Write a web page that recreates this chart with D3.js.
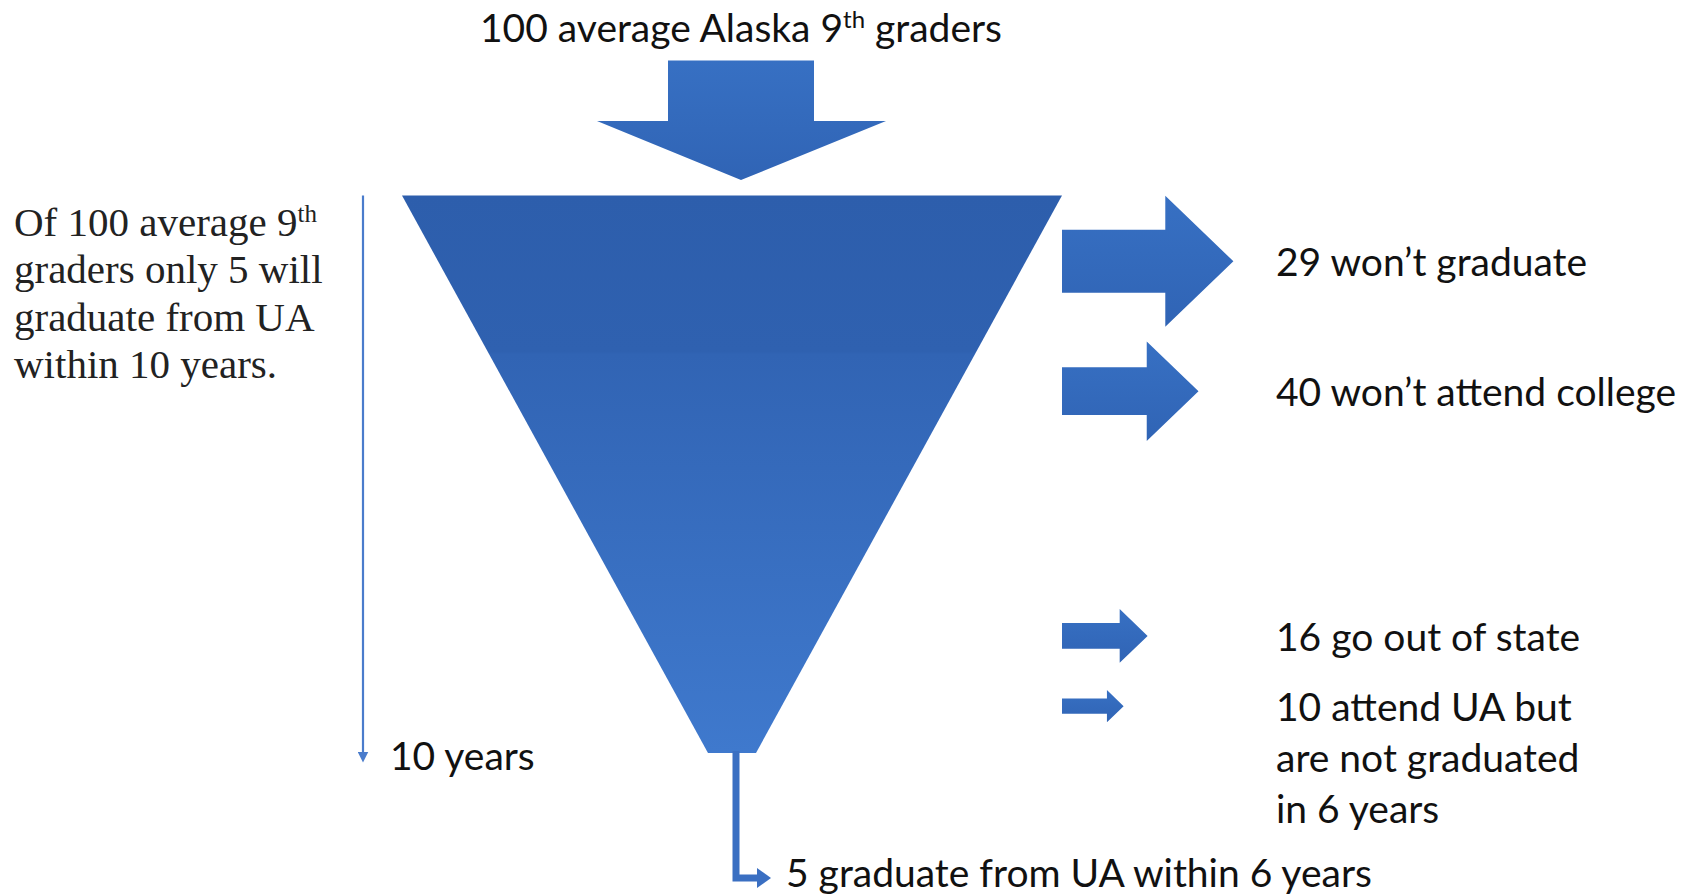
<!DOCTYPE html>
<html>
<head>
<meta charset="utf-8">
<script src="https://cdn.jsdelivr.net/npm/d3@7"></script>
<style>
  html, body { margin: 0; padding: 0; background: #fff; }
  svg { display: block; }
</style>
</head>
<body>
<div id="chart"></div>
<script>
// cohort flowing through the funnel
const cohortSize = 100;
const graduates = 5;
const yearsSpan = 10;

// people leaving the pipeline, in the order of the side arrows
const outflowCounts = [29, 40, 16, 10];
const outflowLabels = [
  ["29 won\u2019t graduate"],
  ["40 won\u2019t attend college"],
  ["16 go out of state"],
  ["10 attend UA but", "are not graduated", "in 6 years"]
];
// where each arrow leaves on the time axis, and its relative drawn size
const outflowYear = [1.18, 3.51, 7.9, 9.16];
const arrowSize = [1, 0.76, 0.41, 0.245];

const titleLines = ["100 average Alaska 9", "th", " graders"];
const noteLines = [["Of 100 average 9", "th"], ["graders only 5 will"], ["graduate from UA"], ["within 10 years."]];
const axisLabel = "10 years";
const graduateLabel = "5 graduate from UA within 6 years";

const W = 1694, H = 895;
const sans = "Lato, 'Open Sans', sans-serif";
const serif = "'Liberation Serif', 'Times New Roman', serif";
const labelSize = 39;

const svg = d3.select("#chart").append("svg")
  .attr("width", W)
  .attr("height", H)
  .attr("viewBox", `0 0 ${W} ${H}`);

const defs = svg.append("defs");

const funnelGrad = defs.append("linearGradient")
  .attr("id", "funnelGrad")
  .attr("x1", 0).attr("y1", 0).attr("x2", 0).attr("y2", 1);
funnelGrad.append("stop").attr("offset", "0%").attr("stop-color", "#2d5eac");
funnelGrad.append("stop").attr("offset", "28%").attr("stop-color", "#2f61b0");
funnelGrad.append("stop").attr("offset", "28.5%").attr("stop-color", "#3164b4");
funnelGrad.append("stop").attr("offset", "100%").attr("stop-color", "#3f79cd");

const arrowGrad = defs.append("linearGradient")
  .attr("id", "arrowGrad")
  .attr("x1", 0).attr("y1", 0).attr("x2", 0).attr("y2", 1);
arrowGrad.append("stop").attr("offset", "0%").attr("stop-color", "#3770c3");
arrowGrad.append("stop").attr("offset", "100%").attr("stop-color", "#3064b5");

defs.append("marker")
  .attr("id", "smallHead")
  .attr("viewBox", "0 0 10 10")
  .attr("refX", 5).attr("refY", 5)
  .attr("markerWidth", 5).attr("markerHeight", 5)
  .attr("markerUnits", "strokeWidth")
  .attr("orient", "auto")
  .append("path")
  .attr("d", "M0,0L10,5L0,10Z")
  .attr("fill", "#4a7ccc");

// scales
const centerX = 732;
const yearScale = d3.scaleLinear().domain([0, yearsSpan]).range([195.5, 753]);
const widthScale = d3.scaleLinear().domain([graduates, cohortSize]).range([48, 660]);
const arrowScale = d3.scaleLinear().domain([0, 1]).range([0, 131]);
const arrowX0 = centerX + widthScale(cohortSize) / 2;

// title
const title = svg.append("text")
  .attr("x", 741)
  .attr("y", 42)
  .attr("text-anchor", "middle")
  .style("font-family", sans)
  .style("font-size", labelSize + "px")
  .style("fill", "#111");
title.append("tspan").text(titleLines[0]);
title.append("tspan").attr("dy", -14).style("font-size", "24px").text(titleLines[1]);
title.append("tspan").attr("dy", 14).text(titleLines[2]);

// big down arrow into the funnel
const downArrow = d3.path();
downArrow.moveTo(668, 60.5);
downArrow.lineTo(814, 60.5);
downArrow.lineTo(814, 121);
downArrow.lineTo(886, 121);
downArrow.lineTo(741, 180);
downArrow.lineTo(597, 121);
downArrow.lineTo(668, 121);
downArrow.closePath();
svg.append("path")
  .attr("d", downArrow.toString())
  .attr("fill", "url(#arrowGrad)");

// funnel
const funnelTop = yearScale(0), funnelBottom = yearScale(yearsSpan);
const funnelPts = [
  [centerX - widthScale(cohortSize) / 2, funnelTop],
  [centerX + widthScale(cohortSize) / 2, funnelTop],
  [centerX + widthScale(graduates) / 2, funnelBottom],
  [centerX - widthScale(graduates) / 2, funnelBottom]
];
svg.append("path")
  .attr("d", d3.line()(funnelPts) + "Z")
  .attr("fill", "url(#funnelGrad)");

// outflow arrows
const arrows = outflowCounts.map((count, i) => {
  const h = arrowScale(arrowSize[i]);
  return {
    count,
    label: outflowLabels[i],
    cy: yearScale(outflowYear[i]),
    h,
    shaftH: h * 0.48,
    shaftLen: 26 + h * 0.59,
    headLen: h * 0.52
  };
});

const arrowPath = d => {
  const p = d3.path();
  const x0 = arrowX0, x1 = arrowX0 + d.shaftLen, x2 = x1 + d.headLen;
  p.moveTo(x0, d.cy - d.shaftH / 2);
  p.lineTo(x1, d.cy - d.shaftH / 2);
  p.lineTo(x1, d.cy - d.h / 2);
  p.lineTo(x2, d.cy);
  p.lineTo(x1, d.cy + d.h / 2);
  p.lineTo(x1, d.cy + d.shaftH / 2);
  p.lineTo(x0, d.cy + d.shaftH / 2);
  p.closePath();
  return p.toString();
};

svg.append("g").selectAll("path")
  .data(arrows)
  .enter().append("path")
  .attr("d", arrowPath)
  .attr("fill", "url(#arrowGrad)");

const labels = svg.append("g").selectAll("text")
  .data(arrows)
  .enter().append("text")
  .attr("x", 1276)
  .attr("y", d => d.cy + 15)
  .style("font-family", sans)
  .style("font-size", labelSize + "px")
  .style("fill", "#111");
labels.selectAll("tspan")
  .data(d => d.label)
  .enter().append("tspan")
  .attr("x", 1276)
  .attr("dy", (d, i) => i === 0 ? 0 : 51)
  .text(d => d);

// stem to the graduates
const stemY = 878;
svg.append("path")
  .attr("d", `M${centerX + 4},${funnelBottom - 2}V${stemY}H${759}`)
  .attr("fill", "none")
  .attr("stroke", "#3a6fc2")
  .attr("stroke-width", 7);
svg.append("path")
  .attr("d", `M757,${stemY - 10}L771,${stemY}L757,${stemY + 10}Z`)
  .attr("fill", "#3a6fc2");

svg.append("text")
  .attr("x", 786)
  .attr("y", 887)
  .style("font-family", sans)
  .style("font-size", labelSize + "px")
  .style("fill", "#111")
  .text(graduateLabel);

// time axis on the left
svg.append("line")
  .attr("x1", 363).attr("x2", 363)
  .attr("y1", funnelTop).attr("y2", 757)
  .attr("stroke", "#4a7ccc")
  .attr("stroke-width", 2.2)
  .attr("marker-end", "url(#smallHead)");

svg.append("text")
  .attr("x", 390)
  .attr("y", 770)
  .style("font-family", sans)
  .style("font-size", labelSize + "px")
  .style("fill", "#111")
  .text(axisLabel);

// note on the left
const note = svg.append("g").selectAll("text")
  .data(noteLines)
  .enter().append("text")
  .attr("x", 14)
  .attr("y", (d, i) => 235.5 + i * 47.5)
  .style("font-family", serif)
  .style("font-size", "41px")
  .style("fill", "#222");
note.each(function (parts) {
  const t = d3.select(this);
  t.append("tspan").text(parts[0]);
  if (parts[1]) {
    t.append("tspan").attr("dy", -14).style("font-size", "25px").text(parts[1]);
  }
});
</script>
</body>
</html>
